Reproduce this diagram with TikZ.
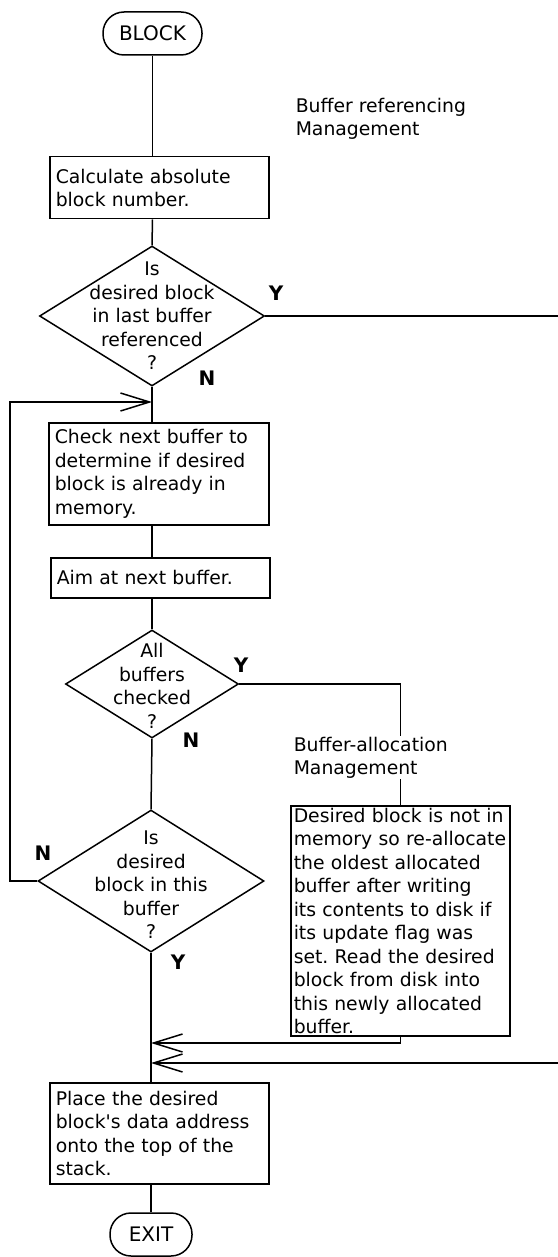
\documentclass[tikz,border=0pt]{standalone}
\usepackage{fontspec}
\setmainfont{DejaVu Sans}
\usetikzlibrary{arrows.meta,shapes.geometric}
\frenchspacing
\begin{document}
\begin{tikzpicture}[x=1pt,y=-1pt,line width=1.5pt,
  txt/.style={font=\fontsize{18.8}{23.5}\selectfont},
  box/.style={draw,txt,align=left,anchor=north west,inner xsep=6pt,inner ysep=0pt},
  dia/.style={draw,diamond,inner sep=0pt},
  term/.style={draw,rounded corners=21pt,minimum height=43pt,inner sep=0pt,font=\fontsize{20}{24}\selectfont},
  lab/.style={font=\fontsize{20}{24}\selectfont\bfseries,inner sep=0pt},
  arr/.style={-{Straight Barb[length=29pt,width=18pt]}}]
\useasboundingbox (0,0) rectangle (557,1257);
% nodes
\node[term,minimum width=99pt] (blk) at (152.5,33.5) {BLOCK};
\node[txt,align=left,anchor=west,inner sep=0pt] (brm) at (295,119) {Buffer referencing\\Management};
\node[box,text width=207pt,minimum height=62pt] (b1) at (49,156) {Calculate absolute\\block number.};
\node[dia,minimum width=225pt,minimum height=140pt] (d1) at (152,316) {};
\node[txt,align=center,inner sep=0pt] (d1t) at (d1.center) {Is\\desired block\\in last buffer\\referenced\\?};
\node[box,text width=208pt,minimum height=102pt] (b2) at (48,422) {Check next buffer to\\determine if desired\\block is already in\\memory.};
\node[box,text width=207pt,minimum height=40pt] (b3) at (50,557) {Aim at next buffer.};
\node[dia,minimum width=173pt,minimum height=108pt] (d2) at (152,684) {};
\node[txt,align=center,inner sep=0pt] (d2t) at ([yshift=-2pt]d2.center) {All\\buffers\\checked\\?};
\node[txt,align=left,anchor=north west,inner sep=0pt] (bam) at (293,736) {Buffer-allocation\\Management};
\node[box,text width=213pt,inner xsep=3pt,minimum height=230pt] (b4) at (290,805) {Desired block is not in\\memory so re-allocate\\the oldest allocated\\buffer after writing\\its contents to disk if\\its update flag was\\set. Read the desired\\block from disk into\\this newly allocated\\buffer.};
\node[dia,minimum width=226pt,minimum height=142pt] (d3) at (151,881) {};
\node[txt,align=center,inner sep=0pt] (d3t) at ([yshift=-4pt]d3.center) {Is\\desired\\block in this\\buffer\\?};
\node[box,text width=207pt,minimum height=101pt] (b5) at (49,1082) {Place the desired\\block\textquotesingle s data address\\onto the top of the\\stack.};
\node[term,minimum width=82pt] (ex) at (151,1234.5) {EXIT};
% labels
\node[lab] (y1) at (276,293) {Y};
\node[lab] (n1) at (207,378) {N};
\node[lab] (y2) at (241,665) {Y};
\node[lab] (n2) at (191,740) {N};
\node[lab] (n3) at (43,853) {N};
\node[lab] (y3) at (178,962) {Y};
% coordinates
\coordinate (j1) at (152,402);
\coordinate (j2) at (151,1043);
\coordinate (j3) at (151,1063);
\coordinate (lp) at (10,881);
\coordinate (rt) at (562,316);
% connectors
\draw (blk.south) -- (blk.south |- b1.north);
\draw (blk.south |- b1.south) -- (d1.north);
\draw (d1.south) -- (j1 |- b2.north);
\draw (j1 |- b2.south) -- (j1 |- b3.north);
\draw (j1 |- b3.south) -- (d2.north);
\draw (d2.south) -- (d3.north);
\draw (d3.south) -- (d3.south |- b5.north);
\draw (d3.south |- b5.south) -- (ex.north);
\draw[arr] (d3.west) -- (lp) |- (j1);
\draw[arr] (d1.east) -- (rt) |- (j3);
\draw (d2.east) -| (b4.north |- bam.north);
\draw (b4.north |- bam.south) -- (b4.north);
\draw[arr] (b4.south) |- (j2);
\end{tikzpicture}
\end{document}
